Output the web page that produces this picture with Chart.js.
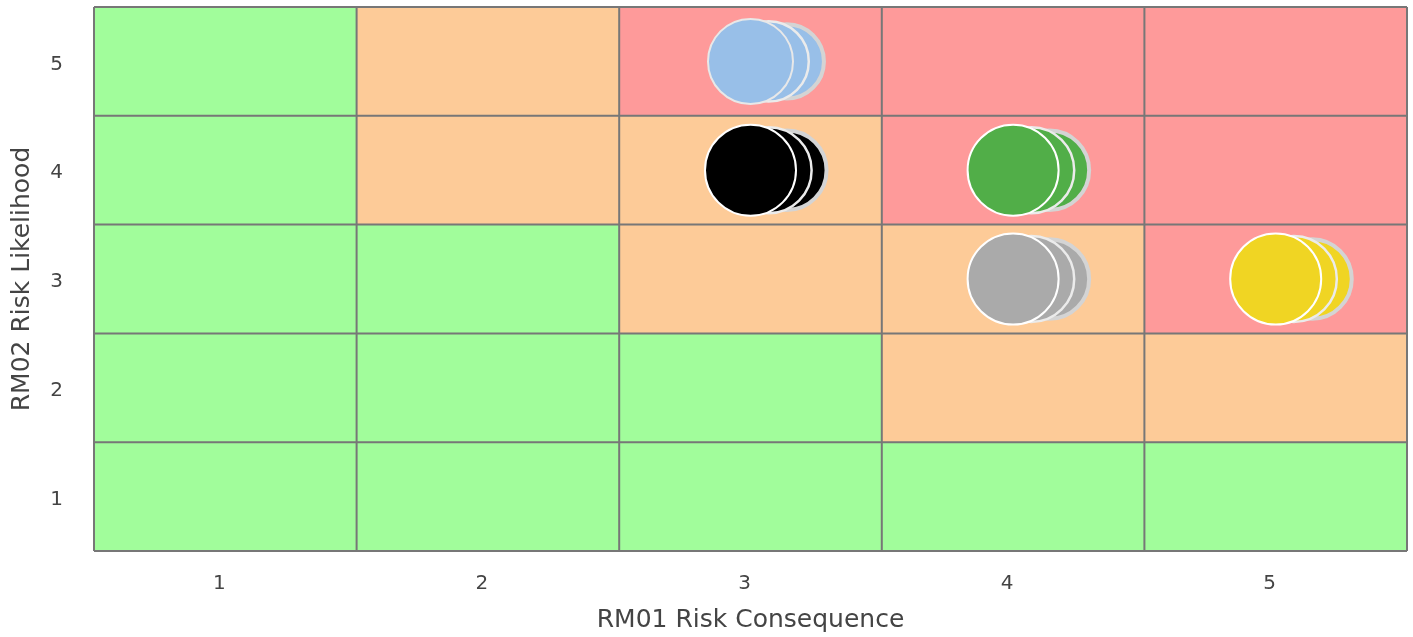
<!DOCTYPE html>
<html>
<head>
<meta charset="utf-8">
<script src="https://cdn.jsdelivr.net/npm/chart.js@4"></script>
<style>
  html, body { margin: 0; padding: 0; background: #fff; }
  #wrap { width: 1413px; height: 637px; }
</style>
</head>
<body>
<div id="wrap"><canvas id="riskChart"></canvas></div>
<script>
const consequenceTicks = [1, 2, 3, 4, 5];
const likelihoodTicks = [1, 2, 3, 4, 5];

// cell rating, rows from likelihood 5 down to 1, columns consequence 1..5
const riskGrid = [
  ['L', 'M', 'H', 'H', 'H'],
  ['L', 'M', 'M', 'H', 'H'],
  ['L', 'L', 'M', 'M', 'H'],
  ['L', 'L', 'L', 'M', 'M'],
  ['L', 'L', 'L', 'L', 'L']
];

const riskConsequence = [3, 3, 4, 4, 5];
const riskLikelihood = [5, 4, 4, 3, 3];
const riskSize = [42.5, 45.5, 45.5, 45.5, 45.5];
const riskColors = ['#98bfe8', '#000000', '#51ae48', '#aaaaaa', '#f0d523'];

const cellColors = { L: '#a1fd9b', M: '#fdcb98', H: '#fe9a9a' };

// each risk is drawn as a small stack of bubbles; front one first
// (chart.js paints dataset 0 on top)
const stackLayers = [
  { dx: 0, scale: 1, border: '#ffffff', width: 2 },
  { dx: 0.069, scale: 0.945, border: '#ebebeb', width: 2.5 },
  { dx: 0.138, scale: 0.875, border: '#d4d4d4', width: 4 }
];

const datasets = [];
stackLayers.forEach(layer => {
  riskConsequence.forEach((c, i) => {
    datasets.push({
      data: [{ x: c + layer.dx, y: riskLikelihood[i], r: riskSize[i] * layer.scale }],
      backgroundColor: riskColors[i],
      borderColor: i === 0 && layer.dx === 0 ? '#e8e8e8' : layer.border,
      borderWidth: layer.width,
      hoverRadius: 0
    });
  });
});

const matrixPlugin = {
  id: 'matrix',
  beforeDatasetsDraw(chart) {
    const { ctx, scales: { x, y } } = chart;
    ctx.save();
    riskGrid.forEach((row, ri) => {
      const lk = likelihoodTicks[likelihoodTicks.length - 1 - ri];
      row.forEach((cell, ci) => {
        const cq = consequenceTicks[ci];
        const x0 = x.getPixelForValue(cq - 0.5), x1 = x.getPixelForValue(cq + 0.5);
        const y0 = y.getPixelForValue(lk + 0.5), y1 = y.getPixelForValue(lk - 0.5);
        ctx.fillStyle = cellColors[cell];
        ctx.fillRect(x0, y0, x1 - x0, y1 - y0);
      });
    });
    ctx.strokeStyle = '#777777';
    ctx.lineWidth = 2;
    ctx.beginPath();
    for (let v = 0.5; v <= 5.5; v++) {
      const px = x.getPixelForValue(v);
      ctx.moveTo(px, y.top); ctx.lineTo(px, y.bottom);
      const py = y.getPixelForValue(v);
      ctx.moveTo(x.left, py); ctx.lineTo(x.right, py);
    }
    ctx.stroke();
    ctx.restore();
  }
};

const font = 'DejaVu Sans, Verdana, sans-serif';

new Chart(document.getElementById('riskChart'), {
  type: 'bubble',
  data: { datasets },
  plugins: [matrixPlugin],
  options: {
    responsive: true,
    maintainAspectRatio: false,
    animation: false,
    events: [],
    layout: { autoPadding: false, padding: { top: 7, right: 6, left: 0, bottom: 0 } },
    plugins: { legend: { display: false }, tooltip: { enabled: false } },
    scales: {
      x: {
        type: 'linear', min: 0.5, max: 5.5,
        afterFit: s => { s.height = 86; s.paddingLeft = 0; s.paddingRight = 0; },
        afterBuildTicks: s => { s.ticks = consequenceTicks.map(v => ({ value: v })); },
        grid: { display: false, drawTicks: false },
        border: { display: false },
        ticks: { color: '#444', font: { family: font, size: 20 }, padding: 21, labelOffset: -6 },
        title: { display: true, text: 'RM01 Risk Consequence', color: '#444',
                 font: { family: font, size: 25 }, padding: { bottom: 2 } }
      },
      y: {
        type: 'linear', min: 0.5, max: 5.5,
        afterFit: s => { s.width = 94; s.paddingTop = 0; s.paddingBottom = 0; },
        afterBuildTicks: s => { s.ticks = likelihoodTicks.map(v => ({ value: v })); },
        grid: { display: false, drawTicks: false },
        border: { display: false },
        ticks: { color: '#444', font: { family: font, size: 20 }, padding: 31, labelOffset: 3 },
        title: { display: true, text: 'RM02 Risk Likelihood', color: '#444',
                 font: { family: font, size: 25 }, padding: { top: 7 } }
      }
    }
  }
});
</script>
</body>
</html>
